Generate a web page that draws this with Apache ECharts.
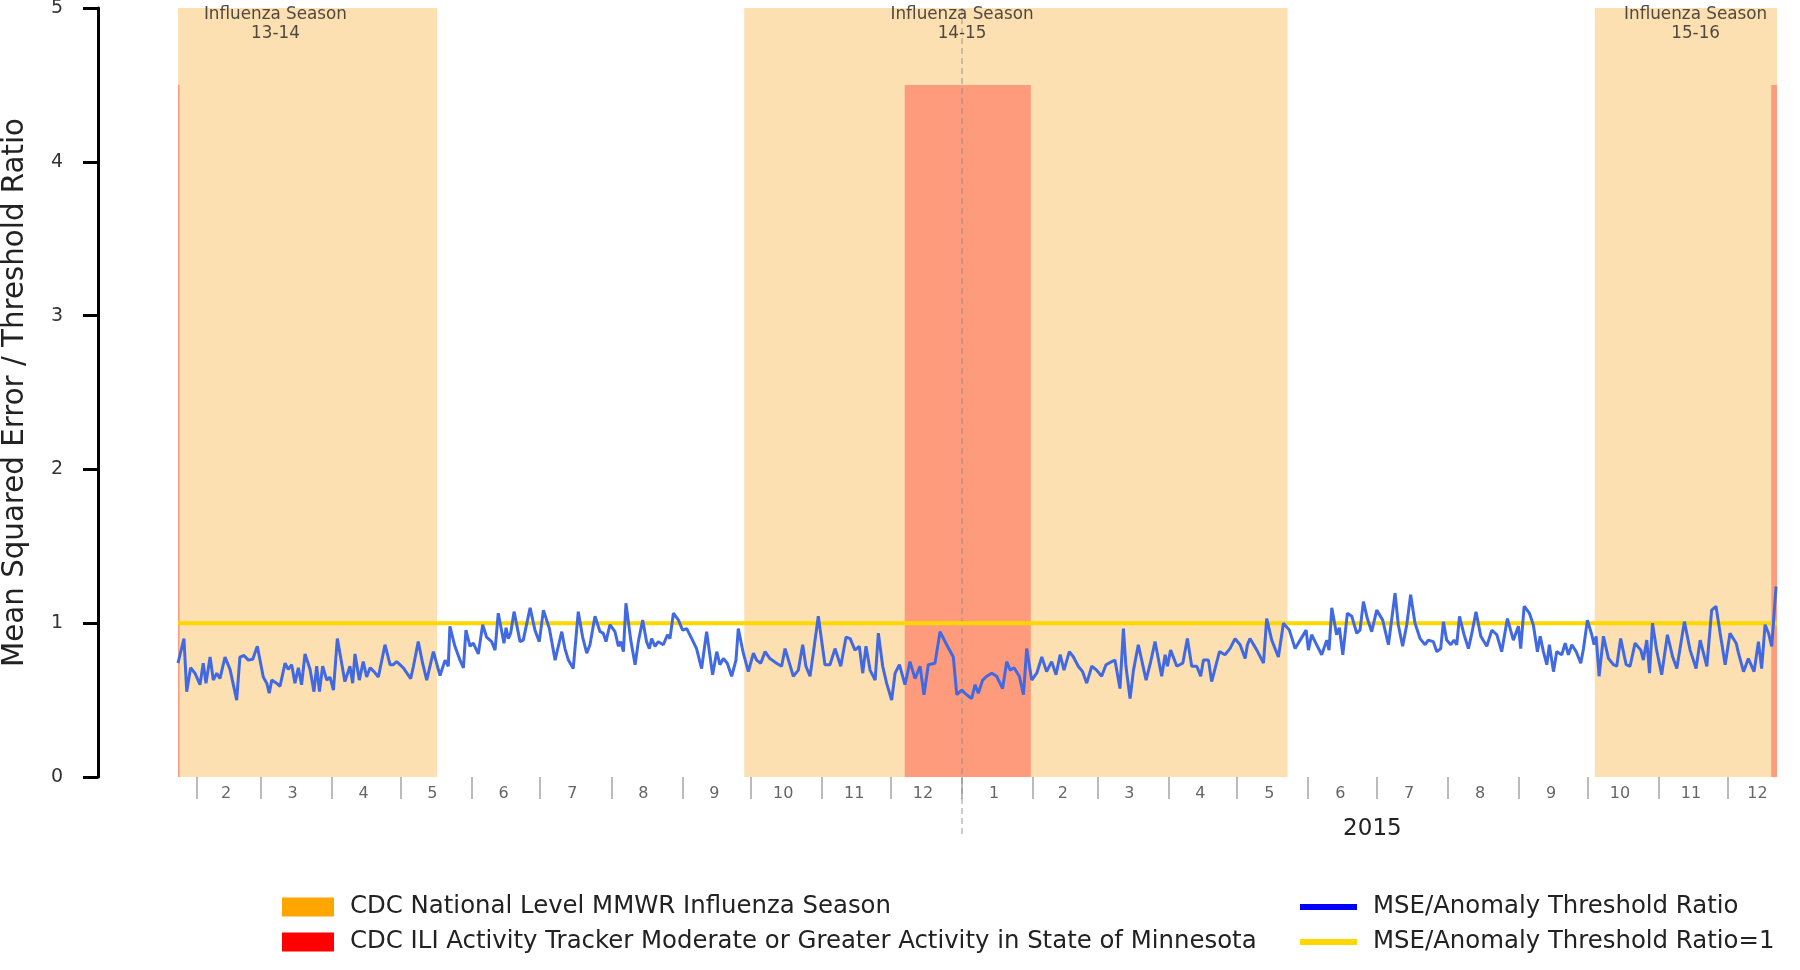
<!DOCTYPE html>
<html>
<head>
<meta charset="utf-8">
<script src="https://cdn.jsdelivr.net/npm/echarts@6/dist/echarts.min.js"></script>
<style>
html,body{margin:0;padding:0;background:#fff;}
#chart{width:1800px;height:970px;}
</style>
</head>
<body>
<div id="chart"></div>
<script>
// ---------------- DATA ----------------
const axisStart = '2014-01-24T00:00:00';
const axisEnd = '2015-12-22T12:00:00';

// [days since axisStart, MSE / anomaly threshold ratio]
const ratio2014a = [[0,0.74],[2.6,0.90],[3.8,0.555],[5.5,0.71],[7.4,0.675],[9.6,0.60],[11.0,0.74],[12.2,0.61],[14.0,0.78],[15.4,0.63],[16.9,0.675],[18.3,0.64],[20.5,0.78],[22.7,0.70],[25.6,0.50],[27.0,0.78],[28.8,0.79],[30.7,0.76],[32.6,0.765],[34.6,0.85],[37.2,0.65],[38.7,0.61],[39.8,0.545],[40.9,0.63],[43.0,0.61],[44.5,0.59],[46.7,0.74],[48.1,0.70],[49.6,0.73],[51.0,0.61],[52.5,0.71],[53.9,0.60],[55.4,0.80],[57.6,0.70],[59.3,0.555],[60.5,0.72],[61.7,0.555],[63.1,0.72],[64.9,0.63],[66.3,0.65],[67.8,0.565],[69.5,0.90],[71.4,0.74],[72.8,0.62],[75.0,0.72],[76.2,0.61],[77.2,0.80],[79.1,0.63],[80.8,0.75],[82.3,0.65],[83.8,0.71],[85.5,0.685],[87.4,0.65],[90.3,0.86],[92.5,0.73],[93.9,0.73],[95.4,0.75],[98.3,0.71],[101.5,0.64],[102.7,0.72],[104.8,0.88],[106.7,0.74],[108.5,0.63],[111.4,0.815],[114.3,0.66],[116.5,0.76],[117.9,0.72],[118.6,0.98],[120.8,0.85],[123.0,0.76],[124.5,0.71],[125.6,0.955],[127.4,0.85],[128.8,0.87],[131.0,0.80],[132.9,0.99],[134.6,0.91],[136.8,0.88],[138.3,0.825],[139.7,1.065]];
const ratio2014b = [[142.2,0.87],[143.1,0.97],[144.1,0.90],[145.1,0.935],[146.6,1.075],[149.2,0.88],[150.6,0.89],[153.6,1.10],[155.7,0.955],[157.6,0.88],[159.4,1.085],[162.0,0.965],[164.5,0.76],[165.9,0.85],[167.4,0.945],[168.8,0.835],[170.3,0.76],[172.4,0.705],[174.6,1.075],[176.5,0.91],[178.3,0.805],[179.7,0.86],[181.9,1.045],[184.1,0.945],[185.5,0.935],[186.7,0.88],[188.4,0.99],[190.6,0.945],[192.1,0.85],[193.1,0.88],[194.3,0.815],[195.4,1.13],[197.5,0.89],[199.4,0.73],[200.8,0.88],[202.7,1.02],[204.4,0.88],[205.6,0.835],[206.6,0.90],[208.1,0.85],[209.5,0.88],[211.7,0.86],[213.5,0.925],[214.6,0.90],[216.1,1.065],[218.3,1.02],[220.1,0.955],[221.9,0.965],[224.1,0.90],[226.2,0.835],[228.4,0.705],[230.6,0.945],[233.2,0.665],[235.0,0.815],[236.4,0.73],[237.9,0.77],[239.6,0.74],[241.5,0.655],[243.4,0.76],[244.4,0.965],[246.6,0.805],[248.8,0.685],[251.0,0.805],[252.4,0.76],[254.2,0.74],[256.1,0.815],[258.2,0.77],[261.1,0.74],[263.3,0.72],[264.8,0.835],[266.7,0.74],[268.4,0.655],[270.6,0.695],[272.5,0.86],[273.9,0.72],[275.7,0.655],[277.3,0.825]];
const ratio2015a = [[279.3,1.045],[282.2,0.73],[284.4,0.73],[286.6,0.835],[289.1,0.72],[291.4,0.91],[293.2,0.90],[295.3,0.825],[297.2,0.85],[298.7,0.675],[300.1,0.85],[301.9,0.695],[304.1,0.63],[305.5,0.935],[307.4,0.72],[309.1,0.61],[311.3,0.50],[312.8,0.675],[314.7,0.73],[317.1,0.60],[319.3,0.75],[321.5,0.64],[323.7,0.72],[325.4,0.535],[327.3,0.73],[330.2,0.74],[332.4,0.945],[335.3,0.86],[338.2,0.78],[339.7,0.535],[341.9,0.565],[344.0,0.535],[346.2,0.51],[347.7,0.60],[349.1,0.545],[351.0,0.63],[352.8,0.655],[355.0,0.675],[357.1,0.655],[359.7,0.575],[361.5,0.75],[363.0,0.695],[364.7,0.71],[367.0,0.655],[368.8,0.535],[370.2,0.835],[372.4,0.63],[374.6,0.675],[376.8,0.78],[378.9,0.685],[381.1,0.75],[383.0,0.665],[384.8,0.795],[386.5,0.695],[388.8,0.815],[390.6,0.78],[392.7,0.72],[394.6,0.685],[396.4,0.61],[398.6,0.72],[400.7,0.695],[402.9,0.655],[404.8,0.73],[407.3,0.75],[408.7,0.76],[410.9,0.575],[412.4,0.965],[413.5,0.72],[415.3,0.51]];
const ratio2015b = [[416.8,0.695],[418.9,0.86],[422.3,0.63],[424.3,0.75],[426.2,0.88],[429.1,0.655],[430.6,0.795],[431.6,0.72],[433.0,0.825],[435.7,0.72],[438.3,0.74],[440.3,0.90],[442.2,0.72],[444.4,0.72],[446.1,0.655],[447.3,0.76],[449.5,0.76],[450.9,0.62],[454.3,0.815],[456.7,0.795],[458.9,0.835],[461.1,0.90],[463.3,0.86],[465.5,0.77],[466.5,0.86],[467.6,0.90],[470.6,0.825],[473.5,0.74],[474.9,1.03],[477.1,0.89],[480.0,0.78],[482.2,1.00],[484.8,0.955],[487.3,0.835],[489.5,0.89],[492.1,0.955],[493.1,0.825],[494.5,0.925],[496.0,0.88],[498.9,0.795],[501.1,0.89],[502.1,0.825],[503.3,1.10],[505.4,0.925],[506.6,0.97],[508.1,0.795],[510.1,1.065],[512.0,1.045],[514.2,0.935],[515.6,0.955],[517.1,1.14],[518.8,1.03],[520.7,0.945],[522.9,1.085],[525.5,1.02],[528.0,0.86],[530.9,1.195],[532.3,0.99],[534.2,0.85],[536.0,0.99],[537.7,1.185],[539.6,1.00],[541.8,0.90],[544.0,0.86],[545.4,0.89],[547.6,0.88],[549.1,0.815],[550.8,0.835],[552.0,1.01],[553.4,0.89],[555.2,0.86]];
const ratio2015c = [[556.6,0.89],[557.8,0.86],[559.0,1.045],[561.0,0.925],[562.9,0.835],[564.4,0.935],[566.2,1.075],[568.3,0.915],[570.9,0.85],[573.1,0.955],[575.3,0.925],[577.4,0.815],[579.9,1.03],[582.5,0.89],[584.7,0.98],[585.7,0.835],[587.2,1.11],[589.5,1.065],[591.2,0.99],[593.0,0.815],[594.2,0.915],[595.6,0.815],[597.1,0.73],[598.2,0.86],[600.0,0.685],[601.4,0.815],[603.6,0.795],[605.1,0.87],[606.5,0.795],[608.0,0.86],[609.9,0.815],[611.9,0.74],[613.1,0.835],[614.8,1.02],[616.7,0.925],[617.7,0.86],[618.6,0.915],[619.9,0.655],[621.8,0.915],[624.0,0.77],[626.2,0.73],[627.6,0.72],[629.3,0.90],[631.7,0.73],[633.4,0.72],[635.6,0.87],[638.1,0.825],[639.2,0.76],[640.7,0.89],[641.9,0.675],[643.2,1.00],[645.0,0.825],[647.2,0.665],[649.7,0.925],[652.0,0.78],[653.8,0.705],[657.1,1.01],[659.6,0.825],[662.2,0.705],[664.0,0.89],[666.9,0.72],[669.0,1.085],[670.9,1.11],[672.7,0.935],[674.9,0.73],[677.0,0.935],[679.7,0.87],[680.7,0.805],[682.9,0.685],[685.0,0.77],[687.5,0.685],[689.4,0.88],[690.8,0.705],[692.3,0.99],[693.8,0.935],[695.2,0.85],[697.1,1.24]];

const thresholdRatio = 1;
const seasonTop = 5;
const iliTop = 4.5;

const fluSeasons = [['2014-01-24T00:00:00','2014-05-17T00:00:00'],['2014-09-28T00:00:00','2015-05-23T00:00:00'],['2015-10-04T00:00:00','2015-12-22T12:00:00']];
const fluSeasonLabels = ['Influenza Season\n13-14','Influenza Season\n14-15','Influenza Season\n15-16'];
const fluSeasonLabelDates = ['2014-03-07T12:00:00','2015-01-01T00:00:00','2015-11-17T00:00:00'];
const iliActivity = [['2014-01-24T00:00:00','2014-01-24T16:00:00'],['2014-12-07T00:00:00','2015-01-31T00:00:00'],['2015-12-20T00:00:00','2015-12-22T12:00:00']];

const monthTickDates = ['2014-02-01','2014-03-01','2014-04-01','2014-05-01','2014-06-01','2014-07-01','2014-08-01','2014-09-01','2014-10-01','2014-11-01','2014-12-01','2015-01-01','2015-02-01','2015-03-01','2015-04-01','2015-05-01','2015-06-01','2015-07-01','2015-08-01','2015-09-01','2015-10-01','2015-11-01','2015-12-01'];
const monthLabelDates = ['2014-02-14','2014-03-15','2014-04-15','2014-05-15','2014-06-15','2014-07-15','2014-08-15','2014-09-15','2014-10-15','2014-11-15','2014-12-15','2015-01-15','2015-02-14','2015-03-15','2015-04-15','2015-05-15','2015-06-15','2015-07-15','2015-08-15','2015-09-15','2015-10-15','2015-11-15','2015-12-14'];
const monthLabels = ['2','3','4','5','6','7','8','9','10','11','12','1','2','3','4','5','6','7','8','9','10','11','12'];
const yearLabelDates = ['2015-06-29'];
const yearLabels = ['2015'];
const yearBoundaryDate = '2015-01-01T00:00:00';

const seasonName = 'CDC National Level MMWR Influenza Season';
const iliName = 'CDC ILI Activity Tracker Moderate or Greater Activity in State of Minnesota';
const ratioName = 'MSE/Anomaly Threshold Ratio';
const thresholdName = 'MSE/Anomaly Threshold Ratio=1';

// ---------------- BUILD ----------------
const DAY = 86400000;
const toTs = s => new Date(s.length === 10 ? s + 'T00:00:00' : s).getTime();
const t0 = toTs(axisStart);
const tEnd = toTs(axisEnd);
const ratioData = [].concat(ratio2014a, ratio2014b, ratio2015a, ratio2015b, ratio2015c)
  .map(p => [t0 + p[0] * DAY, p[1]]);
const tickTs = monthTickDates.map(toTs);
const labelTs = monthLabelDates.map(toTs);
const yearTs = yearLabelDates.map(toTs);

function nearestIndex(arr, v) {
  let bi = 0, bd = Infinity;
  arr.forEach((a, i) => { const d = Math.abs(a - v); if (d < bd) { bd = d; bi = i; } });
  return bi;
}
function bandRenderer(fill) {
  return function (params, api) {
    const p0 = api.coord([api.value(0), api.value(2)]);
    const p1 = api.coord([api.value(1), 0]);
    return { type: 'rect', shape: { x: p0[0], y: p0[1], width: p1[0] - p0[0], height: p1[1] - p0[1] }, style: { fill: fill } };
  };
}

const FONT = 'DejaVu Sans';
const chart = echarts.init(document.getElementById('chart'), null, { renderer: 'canvas' });
const option = {
  animation: false,
  backgroundColor: '#ffffff',
  textStyle: { fontFamily: FONT },
  grid: { left: 178, right: 23, top: 8, bottom: 193, containLabel: false, outerBoundsMode: 'none' },
  xAxis: [{
    type: 'value', min: t0, max: tEnd, scale: true,
    axisLine: { show: false },
    splitLine: { show: false },
    axisTick: { show: true, customValues: tickTs, length: 22, lineStyle: { color: '#bbbbbb', width: 2 } },
    axisLabel: {
      show: true, customValues: labelTs, margin: 9, fontSize: 16, color: '#666666', fontFamily: FONT,
      hideOverlap: false,
      formatter: v => monthLabels[nearestIndex(labelTs, v)]
    }
  }, {
    type: 'value', min: t0, max: tEnd, scale: true, position: 'bottom',
    axisLine: { show: false }, axisTick: { show: false }, splitLine: { show: false },
    axisLabel: {
      show: true, customValues: yearTs, margin: 41, fontSize: 23, color: '#222222', fontFamily: FONT,
      formatter: v => yearLabels[nearestIndex(yearTs, v)]
    }
  }],
  yAxis: {
    type: 'value', min: 0, max: 5, interval: 1, offset: 80,
    name: 'Mean Squared Error / Threshold Ratio', nameLocation: 'middle', nameGap: 68,
    nameTextStyle: { fontSize: 29.3, color: '#222222', fontFamily: FONT },
    axisLine: { show: true, lineStyle: { color: '#000000', width: 3 } },
    axisTick: { show: true, length: 15, lineStyle: { color: '#000000', width: 3 } },
    axisLabel: { margin: 35, fontSize: 19, color: '#333333', fontFamily: FONT },
    splitLine: { show: false }
  },
  legend: [{
    left: 277, top: 890, orient: 'vertical', itemWidth: 52, itemHeight: 19, itemGap: 11,
    icon: 'rect', selectedMode: false,
    textStyle: { fontSize: 24.4, color: '#222222', fontFamily: FONT, padding: [0, 0, 0, 11] },
    data: [{ name: seasonName, icon: 'rect', itemStyle: { color: '#FFA500' } },
           { name: iliName, icon: 'rect', itemStyle: { color: '#FF0000' } }]
  }, {
    left: 1295, top: 890, orient: 'vertical', itemWidth: 57, itemHeight: 6, itemGap: 11,
    icon: 'rect', selectedMode: false,
    textStyle: { fontSize: 24.4, color: '#222222', fontFamily: FONT, padding: [0, 0, 0, 11] },
    data: [{ name: ratioName, icon: 'rect', itemStyle: { color: '#0000FF' } },
           { name: thresholdName, icon: 'rect', itemStyle: { color: '#FFD700' } }]
  }],
  series: [{
    name: seasonName, type: 'custom', z: 1, silent: true,
    itemStyle: { color: '#FDE0B2' },
    encode: { x: [0, 1], y: 2 },
    renderItem: bandRenderer('#FDE0B2'),
    data: fluSeasons.map(s => [toTs(s[0]), toTs(s[1]), seasonTop])
  }, {
    name: iliName, type: 'custom', z: 1, silent: true,
    itemStyle: { color: '#FE9B7C' },
    encode: { x: [0, 1], y: 2 },
    renderItem: bandRenderer('#FE9B7C'),
    data: iliActivity.map(s => [toTs(s[0]), toTs(s[1]), iliTop])
  }, {
    name: thresholdName, type: 'line', z: 3, symbol: 'none', silent: true,
    itemStyle: { color: '#FFD700' },
    lineStyle: { color: '#FFD700', width: 4 },
    data: [[t0, thresholdRatio], [tEnd, thresholdRatio]]
  }, {
    name: ratioName, type: 'line', z: 4, symbol: 'none', silent: true,
    itemStyle: { color: '#4169E1' },
    lineStyle: { color: '#4169E1', width: 3 },
    data: ratioData
  }, {
    name: 'seasonLabels', type: 'scatter', z: 5, silent: true,
    symbolSize: 1, itemStyle: { color: 'rgba(0,0,0,0)' },
    label: {
      show: true, position: 'bottom', distance: -3,
      fontSize: 16.8, lineHeight: 19, color: '#222222', fontFamily: FONT, align: 'center',
      formatter: p => fluSeasonLabels[p.dataIndex]
    },
    data: fluSeasonLabelDates.map(d => [toTs(d), seasonTop])
  }]
};
chart.setOption(option);

const bx = chart.convertToPixel({ xAxisIndex: 0 }, toTs(yearBoundaryDate));
chart.setOption({
  graphic: [{
    type: 'line', z: 2, silent: true,
    shape: { x1: bx, y1: 8, x2: bx, y2: 838 },
    style: { stroke: 'rgba(140,140,140,0.6)', lineWidth: 1.5, lineDash: [6, 4] }
  }]
});
</script>
</body>
</html>
